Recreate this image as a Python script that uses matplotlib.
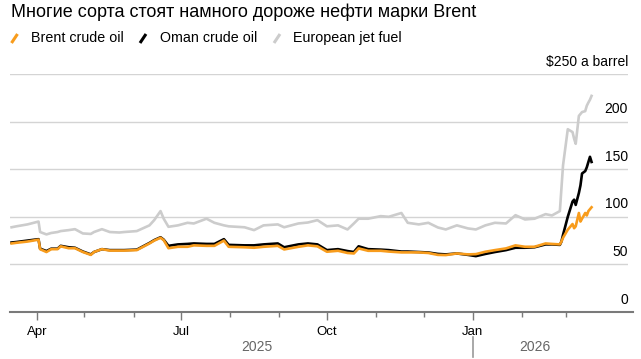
import matplotlib.pyplot as plt
import matplotlib.dates as mdates
import matplotlib.transforms as mtransforms
from matplotlib.lines import Line2D
import numpy as np
import pandas as pd

plt.rcParams["font.family"] = ["Liberation Sans", "DejaVu Sans"]

# 数据（从原图读取，美元/桶）
dates = [
    "2025-03-16", "2025-03-19", "2025-03-26", "2025-04-02", "2025-04-03", "2025-04-07",
    "2025-04-10", "2025-04-14", "2025-04-16", "2025-04-21", "2025-04-25", "2025-04-30",
    "2025-05-05", "2025-05-07", "2025-05-12", "2025-05-17", "2025-05-23", "2025-05-26",
    "2025-06-03", "2025-06-11", "2025-06-14", "2025-06-18", "2025-06-20", "2025-06-23",
    "2025-06-29", "2025-07-05", "2025-07-09", "2025-07-17", "2025-07-22", "2025-07-28",
    "2025-07-31", "2025-08-10", "2025-08-16", "2025-08-22", "2025-08-31", "2025-09-04",
    "2025-09-13", "2025-09-19", "2025-09-25", "2025-10-01", "2025-10-08", "2025-10-14",
    "2025-10-18", "2025-10-21", "2025-10-27", "2025-11-04", "2025-11-09", "2025-11-17",
    "2025-11-21", "2025-11-28", "2025-12-04", "2025-12-10", "2025-12-15", "2025-12-22",
    "2025-12-29", "2026-01-03", "2026-01-09", "2026-01-15", "2026-01-22", "2026-01-28",
    "2026-02-03", "2026-02-09", "2026-02-16", "2026-02-20", "2026-02-25", "2026-02-26",
    "2026-02-27", "2026-03-02", "2026-03-05", "2026-03-06", "2026-03-07", "2026-03-09",
    "2026-03-10", "2026-03-11", "2026-03-13", "2026-03-14", "2026-03-15", "2026-03-16",
    "2026-03-17",
]
brent = [
    72, 72.7, 74, 76, 66, 63,
    66, 66, 69, 67, 67, 63,
    60, 63, 66, 64.5, 64.5, 64.5,
    65, 72, 75, 78, 75.5, 67,
    68.5, 68.5, 70, 69.5, 69.5, 75,
    68.5, 68, 67.5, 68.5, 69.5, 65.7,
    68.5, 70, 69, 63.3, 64.3, 62,
    61.5, 66.8, 64.3, 64.3, 63.5, 62.6,
    62.6, 62.6, 62, 60, 59.8, 61.5,
    60.5, 60.8, 63.3, 65, 66.8, 70,
    68.5, 68.5, 72, 71.5, 71, 74,
    78, 86.5, 92.4, 88, 90, 104,
    95, 98, 104, 101.4, 106, 108,
    110,
]
oman = [
    73, 73.5, 75, 76.5, 66.5, 64,
    66.5, 66.5, 69.5, 68, 67.5, 63.5,
    60.5, 63, 66, 65, 65, 65,
    65.5, 72.5, 75.5, 78.5, 76, 69.5,
    71, 71.5, 72, 71.5, 71.5, 76.5,
    70.5, 70, 70, 71, 72, 68,
    71, 72, 71, 65, 66, 64,
    63, 69, 66, 65.5, 65, 63.5,
    63.5, 63, 62.5, 61, 60.5, 61.5,
    60, 58.7, 61, 63, 65, 67.5,
    67.5, 68, 71, 71, 70.5, 74,
    81, 100, 116, 118, 112.5, 125,
    133, 145.5, 148, 152, 157.6, 163,
    157.6,
]
jet = [
    89, 90, 92, 95, 84, 81.5,
    83, 84, 85, 86, 87, 82.5,
    82, 84, 87, 84, 83.5, 84,
    85, 91, 96.5, 106, 98, 89.5,
    91, 93.7, 93, 98, 93.7, 91,
    90, 89, 86, 91, 92, 89,
    93, 94, 96.5, 90, 91, 86.7,
    93, 98, 98, 100.7, 100, 104,
    93.7, 92, 93.7, 88.8, 86.7, 91,
    87.8, 86.7, 91, 93.7, 93, 101.7,
    97.2, 98, 102.8, 101.4, 106, 130,
    154, 192, 189, 182, 176.7, 206,
    208, 210, 211, 216.7, 220, 223,
    227,
]

y_ticks = [0, 50, 100, 150, 200]
y_labels = ["0", "50", "100", "150", "200"]
top_label = "$250 a barrel"
series_names = ["Brent crude oil", "Oman crude oil", "European jet fuel"]
series_colors = ["#f89c1c", "#000000", "#cccccc"]
year_labels = ["2025", "2026"]

df = pd.DataFrame({"date": pd.to_datetime(dates), "brent": brent, "oman": oman, "jet": jet})

W, H = 641, 359
fig = plt.figure(figsize=(W / 100, H / 100), dpi=100)
ax = fig.add_axes([10 / W, 1 - 312 / H, (628 - 10) / W, (312 - 74) / H])

# 线条：灰、黑、橙的顺序叠放
ax.plot(df["date"], df["jet"], color=series_colors[2], lw=1.9, solid_joinstyle="round", zorder=3)
ax.plot(df["date"], df["oman"], color=series_colors[1], lw=1.9, solid_joinstyle="round", zorder=4)
ax.plot(df["date"], df["brent"], color=series_colors[0], lw=1.9, solid_joinstyle="round", zorder=5)

x0, x1 = pd.Timestamp("2025-03-15"), pd.Timestamp("2026-04-09")
ax.set_xlim(x0, x1)
ax.set_ylim(0, 250)

# 网格线
for v in y_ticks[1:] + [250]:
    ax.axhline(v, color="#d4d4d4", lw=1, zorder=1)

# 右侧刻度文字，放在网格线上方
offset = mtransforms.offset_copy(ax.get_yaxis_transform(), fig=fig, x=0, y=6, units="points")
for v, lab in zip(y_ticks, y_labels):
    ax.text(1.0, v, lab, ha="right", va="baseline", fontsize=10, transform=offset)
ax.text(1.0, 250, top_label, ha="right", va="baseline", fontsize=10, transform=offset)
ax.set_yticks([])

for s in ["top", "right", "left"]:
    ax.spines[s].set_visible(False)
ax.spines["bottom"].set_color("#7a7a7a")
ax.spines["bottom"].set_linewidth(1.5)
ax.spines["bottom"].set_bounds(mdates.date2num(x0), mdates.date2num(pd.Timestamp("2026-04-12")))

# x轴刻度：每月一个小刻度，季度首月为大刻度
months = pd.date_range("2025-04-01", "2026-03-01", freq="MS")
major = [m for m in months if m.month in (1, 4, 7, 10)]
minor = [m for m in months if m.month not in (1, 4, 7, 10)]
ax.set_xticks(major)
ax.set_xticklabels([m.strftime("%b") for m in major])
ax.set_xticks(minor, minor=True)
ax.tick_params(axis="x", which="major", length=6, width=1, color="#7a7a7a",
               labelsize=9.5, pad=4)
ax.tick_params(axis="x", which="minor", length=3.5, width=1, color="#7a7a7a")

# 年份标注
xt = ax.get_xaxis_transform()
ax.text(pd.Timestamp("2025-08-18"), -0.145, year_labels[0], ha="center", va="center",
        fontsize=10, color="#666666", transform=xt)
ax.text(pd.Timestamp("2026-02-09"), -0.145, year_labels[1], ha="center", va="center",
        fontsize=10, color="#666666", transform=xt)
ax.plot([pd.Timestamp("2026-01-01")] * 2, [-0.105, -0.19], color="#999999", lw=1.2,
        transform=xt, clip_on=False)

# 标题
fig.text(11 / W, 1 - 17 / H, "Многие сорта стоят намного дороже нефти марки Brent",
         fontsize=13, ha="left", va="baseline")

# 图例：斜线标记 + 文字
legend_x = [(11.5, 31), (140, 160), (274, 293)]
for (mx, tx), name, c in zip(legend_x, series_names, series_colors):
    fig.add_artist(Line2D([mx / W, (mx + 6) / W], [1 - 43 / H, 1 - 34 / H],
                          color=c, lw=2.2, solid_capstyle="butt"))
    fig.text(tx / W, 1 - 42 / H, name, fontsize=10.3, ha="left", va="baseline")

fig.savefig("out.png", dpi=100)
